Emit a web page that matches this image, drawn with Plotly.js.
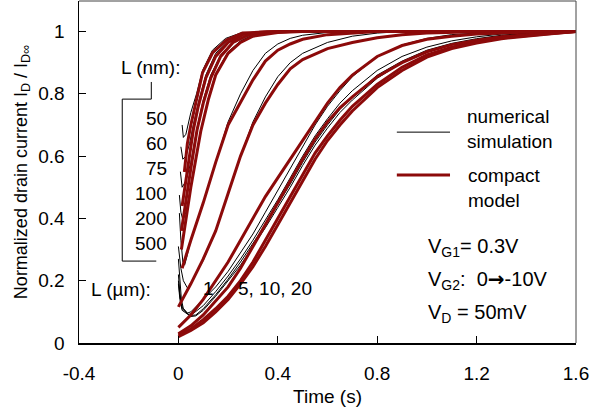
<!DOCTYPE html>
<html><head><meta charset="utf-8">
<script src="https://cdn.plot.ly/plotly-3.0.1.min.js"></script>
<style>html,body{margin:0;padding:0;background:#fff}#c{width:607px;height:415px}</style>
</head><body><div id="c"></div>
<script>
// ---- data ----
// compact model (red) curves, nm channel lengths
const m50x  = [0.024,0.036,0.05,0.073,0.097,0.137,0.194,0.258,0.355,0.45,1.6];
const m50y  = [0.549,0.64,0.70,0.78,0.867,0.931,0.973,0.995,0.999,1.0,1.0];
const m60x  = [0.015,0.03,0.06,0.08,0.11,0.15,0.2,0.26,0.33,0.4,1.6];
const m60y  = [0.44,0.52,0.684,0.76,0.85,0.92,0.965,0.99,0.998,1.0,1.0];
const m75x  = [0.012,0.03,0.05,0.075,0.1,0.13,0.17,0.22,0.28,0.35,0.45,1.6];
const m75y  = [0.36,0.46,0.56,0.684,0.77,0.85,0.92,0.965,0.988,0.997,1.0,1.0];
const m100x = [0.012,0.03,0.05,0.07,0.09,0.12,0.15,0.2,0.25,0.3,0.4,0.5,1.6];
const m100y = [0.30,0.40,0.50,0.59,0.68,0.78,0.86,0.93,0.965,0.985,0.997,1.0,1.0];
const m200x = [0.015,0.05,0.1,0.15,0.2,0.25,0.3,0.35,0.4,0.45,0.5,0.6,0.7,0.8,1.6];
const m200y = [0.24,0.33,0.45,0.58,0.70,0.775,0.845,0.905,0.94,0.96,0.975,0.99,0.996,1.0,1.0];
const m500x = [0,0.05,0.1,0.15,0.2,0.25,0.3,0.35,0.4,0.45,0.5,0.6,0.7,0.8,0.9,1.0,1.2,1.6];
const m500y = [0.116,0.19,0.27,0.36,0.48,0.60,0.70,0.77,0.83,0.88,0.91,0.945,0.965,0.98,0.99,0.995,0.999,1.0];
// compact model, um channel lengths
const mUx = [0,0.05,0.1,0.15,0.2,0.25,0.3,0.35,0.4,0.45,0.5,0.55,0.6,0.65,0.7,0.8,0.9,1.0,1.1,1.2,1.3,1.4,1.5,1.6];
const m1uy  = [0.05,0.09,0.14,0.20,0.26,0.33,0.40,0.47,0.53,0.59,0.65,0.71,0.77,0.82,0.86,0.92,0.955,0.975,0.985,0.992,0.996,0.998,0.999,1.0];
const m5uy  = [0.03,0.055,0.09,0.135,0.18,0.24,0.31,0.38,0.45,0.52,0.59,0.655,0.71,0.755,0.79,0.855,0.90,0.935,0.958,0.972,0.983,0.99,0.995,1.0];
const m10uy = [0.025,0.045,0.075,0.11,0.15,0.20,0.26,0.33,0.40,0.47,0.54,0.61,0.665,0.715,0.76,0.83,0.885,0.925,0.95,0.967,0.98,0.988,0.994,1.0];
const m20uy = [0.02,0.04,0.065,0.10,0.14,0.19,0.245,0.31,0.38,0.45,0.52,0.59,0.65,0.70,0.745,0.82,0.875,0.918,0.945,0.963,0.977,0.986,0.993,1.0];

// numerical simulation (black) curves
const s50x  = [0.015,0.02,0.03,0.04,0.05,0.073,0.097,0.137,0.19,0.25,0.35,1.6];
const s50y  = [0.70,0.66,0.67,0.71,0.74,0.80,0.875,0.94,0.978,0.995,1.0,1.0];
const s60x  = [0.01,0.018,0.03,0.045,0.06,0.08,0.11,0.15,0.2,0.26,0.33,1.6];
const s60y  = [0.63,0.59,0.60,0.64,0.70,0.77,0.86,0.93,0.972,0.992,1.0,1.0];
const s75x  = [0.008,0.015,0.03,0.05,0.075,0.1,0.13,0.17,0.22,0.28,0.35,1.6];
const s75y  = [0.55,0.50,0.52,0.58,0.69,0.78,0.86,0.925,0.968,0.99,1.0,1.0];
const s100x = [0.004,0.01,0.018,0.03,0.05,0.07,0.09,0.12,0.15,0.2,0.25,0.3,0.4,1.6];
const s100y = [0.475,0.42,0.395,0.42,0.50,0.59,0.68,0.785,0.865,0.935,0.97,0.99,1.0,1.0];
const s200x = [0.004,0.01,0.018,0.025,0.035,0.05,0.1,0.15,0.2,0.25,0.3,0.35,0.4,0.45,0.5,0.6,0.7,1.6];
const s200y = [0.417,0.33,0.26,0.25,0.28,0.33,0.45,0.58,0.71,0.80,0.875,0.93,0.96,0.978,0.988,0.997,1.0,1.0];
const s500x = [0,0.01,0.02,0.036,0.05,0.1,0.15,0.2,0.25,0.3,0.35,0.4,0.45,0.5,0.6,0.7,0.8,0.9,1.6];
const s500y = [0.31,0.24,0.20,0.177,0.19,0.265,0.36,0.48,0.60,0.71,0.79,0.855,0.90,0.93,0.965,0.985,0.995,1.0,1.0];
const s1ux  = [0,0.005,0.012,0.02,0.036,0.05,0.1,0.15,0.2,0.25,0.3,0.35,0.4,0.45,0.5,0.55,0.6,0.65,0.7,0.8,0.9,1.0,1.1,1.2,1.3,1.6];
const s1uy  = [0.27,0.20,0.14,0.11,0.096,0.10,0.14,0.18,0.23,0.29,0.35,0.42,0.49,0.56,0.63,0.70,0.76,0.81,0.855,0.92,0.957,0.978,0.99,0.996,1.0,1.0];
const s5ux  = [0,0.006,0.015,0.04,0.06,0.1,0.15,0.2,0.25,0.3,0.35,0.4,0.45,0.5,0.55,0.6,0.65,0.7,0.8,0.9,1.0,1.1,1.2,1.3,1.4,1.6];
const s5uy  = [0.22,0.16,0.115,0.092,0.095,0.12,0.165,0.215,0.27,0.33,0.395,0.46,0.53,0.60,0.665,0.72,0.77,0.81,0.875,0.92,0.95,0.97,0.983,0.992,0.997,1.0];
const s10ux = [0,0.006,0.015,0.045,0.07,0.1,0.15,0.2,0.25,0.3,0.35,0.4,0.45,0.5,0.55,0.6,0.65,0.7,0.8,0.9,1.0,1.1,1.2,1.3,1.4,1.6];
const s10uy = [0.20,0.15,0.11,0.088,0.09,0.11,0.155,0.205,0.26,0.32,0.38,0.445,0.51,0.58,0.645,0.70,0.75,0.79,0.86,0.905,0.94,0.962,0.977,0.988,0.995,1.0];
const s20ux = [0,0.006,0.015,0.05,0.07,0.1,0.15,0.2,0.25,0.3,0.35,0.4,0.45,0.5,0.55,0.6,0.65,0.7,0.8,0.9,1.0,1.1,1.2,1.3,1.4,1.6];
const s20uy = [0.19,0.14,0.105,0.085,0.087,0.105,0.15,0.20,0.25,0.31,0.37,0.435,0.50,0.57,0.635,0.69,0.74,0.78,0.85,0.90,0.935,0.958,0.974,0.986,0.994,1.0];

const nmLabels = ['50','60','75','100','200','500'];
const nmLabelY = [0.722,0.641,0.561,0.48,0.40,0.32];
const xTicks = [-0.4,0,0.4,0.8,1.2,1.6];
const yTicks = [0,0.2,0.4,0.6,0.8,1];

const RED = '#8c0a0a';
const sims = [[s50x,s50y],[s60x,s60y],[s75x,s75y],[s100x,s100y],[s200x,s200y],[s500x,s500y],
              [s1ux,s1uy],[s5ux,s5uy],[s10ux,s10uy],[s20ux,s20uy]];
const models = [[m50x,m50y],[m60x,m60y],[m75x,m75y],[m100x,m100y],[m200x,m200y],[m500x,m500y],
                [mUx,m1uy],[mUx,m5uy],[mUx,m10uy],[mUx,m20uy]];
const traces = [];
sims.forEach(s => traces.push({x:s[0], y:s[1], type:'scatter', mode:'lines', showlegend:false,
  line:{color:'#000', width:1}, hoverinfo:'skip'}));
models.forEach(m => traces.push({x:m[0], y:m[1], type:'scatter', mode:'lines', showlegend:false,
  line:{color:RED, width:3}, hoverinfo:'skip'}));

const F = 'Liberation Sans, Arial, sans-serif';
const ann = [];
function txt(t, x, y, xa, size){ ann.push({text:t, x:x, y:y, xref:'x', yref:'y', xanchor:xa||'left', yanchor:'middle',
  showarrow:false, font:{family:F, size:size||19, color:'#000'}}); }
txt('L (nm):', -0.113, 0.883, 'center');
nmLabels.forEach((l,i)=> txt(l, -0.036, nmLabelY[i], 'right'));
txt('L (µm):', -0.36, 0.173, 'left');
txt('1', 0.12, 0.175, 'center');
txt('5, 10, 20', 0.232, 0.175, 'left');
txt('numerical', 1.155, 0.726, 'left');
txt('simulation', 1.155, 0.648, 'left');
txt('compact', 1.158, 0.539, 'left');
txt('model', 1.158, 0.459, 'left');
const ARW = '<span style="font-family:DejaVu Sans"><b>→</b></span>';
txt('V<sub>G1</sub>= 0.3V', 0.998, 0.308, 'left', 20);
txt('V<sub>G2</sub>:  0' + ARW + '-10V', 0.998, 0.202, 'left', 20);
txt('V<sub>D</sub> = 50mV', 0.998, 0.096, 'left', 20);

const shapes = [
  {type:'line', xref:'x', yref:'y', x0:-0.109, x1:-0.109, y0:0.838, y1:0.783, line:{color:'#000', width:1}},
  {type:'line', xref:'x', yref:'y', x0:-0.226, x1:-0.109, y0:0.783, y1:0.783, line:{color:'#000', width:1}},
  {type:'line', xref:'x', yref:'y', x0:-0.226, x1:-0.226, y0:0.783, y1:0.263, line:{color:'#000', width:1}},
  {type:'line', xref:'x', yref:'y', x0:-0.226, x1:-0.089, y0:0.263, y1:0.263, line:{color:'#000', width:1}},
  {type:'line', xref:'x', yref:'y', x0:0.879, x1:1.093, y0:0.677, y1:0.677, line:{color:'#000', width:1}},
  {type:'line', xref:'x', yref:'y', x0:0.879, x1:1.093, y0:0.539, y1:0.539, line:{color:RED, width:3}},
  {type:'line', xref:'paper', yref:'paper', x0:0, x1:1, y0:1, y1:1, line:{color:'#444', width:1}},
  {type:'line', xref:'paper', yref:'paper', x0:1, x1:1, y0:0, y1:1, line:{color:'#444', width:1}}
];

const layout = {
  width:607, height:415, margin:{l:79, r:31, t:1, b:72},
  paper_bgcolor:'#fff', plot_bgcolor:'#fff', showlegend:false,
  font:{family:F, size:19, color:'#000'},
  xaxis:{range:[-0.4,1.6], tickvals:xTicks, ticktext:xTicks.map(String), ticks:'inside', ticklen:7, tickwidth:1, tickcolor:'#000',
    showline:true, linecolor:'#000', linewidth:2, showgrid:false, zeroline:false, ticklabelstandoff:12,
    tickfont:{family:F, size:19, color:'#000'},
    title:{text:'Time (s)', font:{family:F, size:19, color:'#000'}, standoff:7}},
  yaxis:{range:[0,1.098], tickvals:yTicks, ticktext:yTicks.map(String), ticks:'inside', ticklen:7, tickwidth:1, tickcolor:'#000',
    showline:true, linecolor:'#000', linewidth:1.5, showgrid:false, zeroline:false, ticklabelstandoff:9,
    tickfont:{family:F, size:19, color:'#000'},
    title:{text:'Normalized drain current I<sub>D</sub> / I<sub>D∞</sub>', font:{family:F, size:18, color:'#000'}, standoff:6}},
  annotations:ann, shapes:shapes
};
Plotly.newPlot('c', traces, layout, {staticPlot:true, displayModeBar:false});
</script></body></html>
